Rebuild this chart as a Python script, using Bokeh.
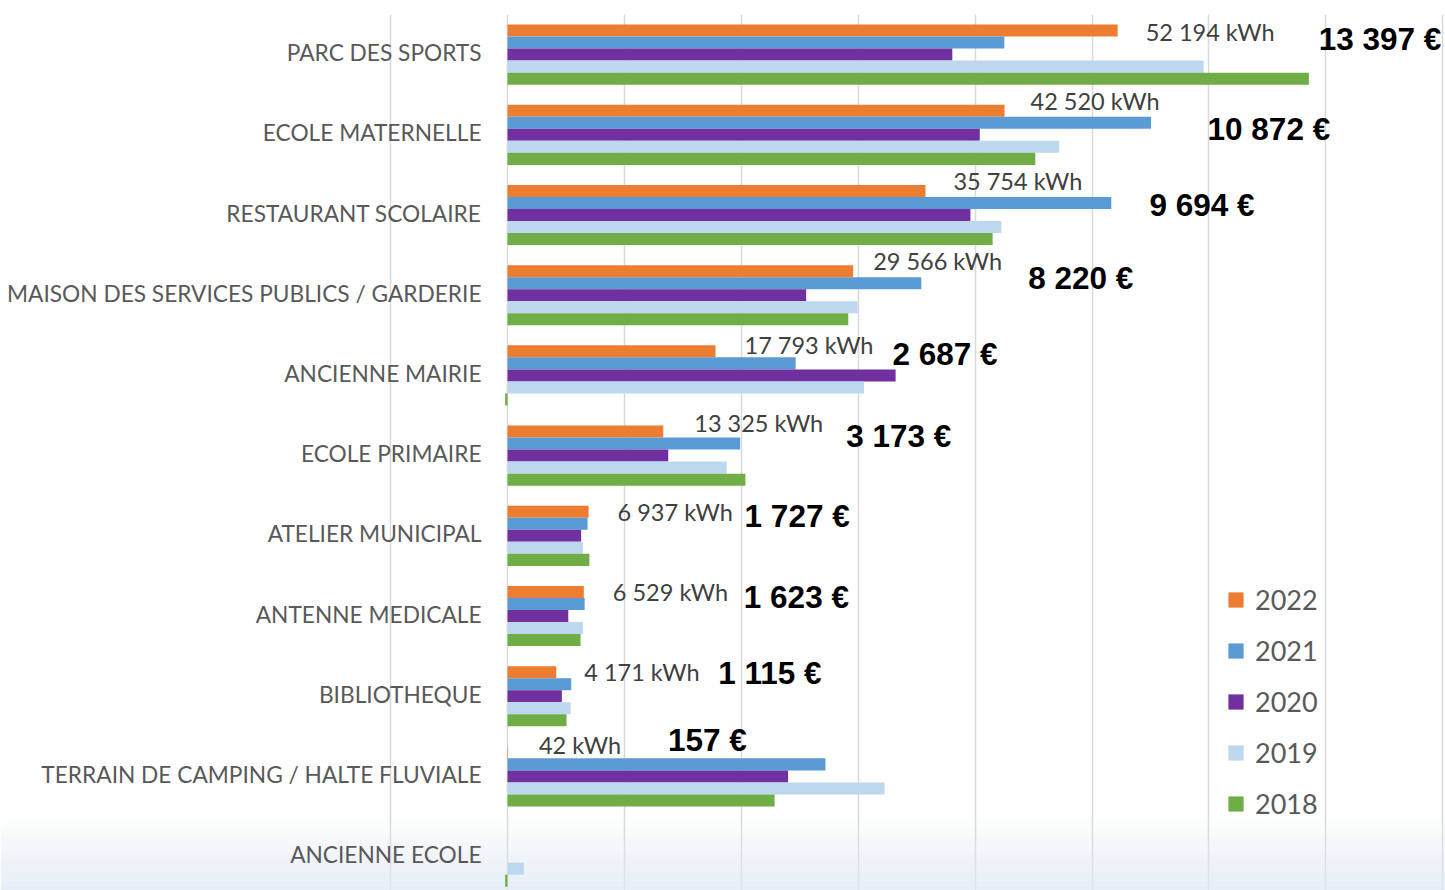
from bokeh.plotting import figure
from bokeh.models import ColumnDataSource, Range1d, FixedTicker, Legend, LegendItem, BoxAnnotation
from bokeh.embed import file_html
from bokeh.resources import INLINE
from bokeh.core.properties import value

categories = [
    "PARC DES SPORTS",
    "ECOLE MATERNELLE",
    "RESTAURANT SCOLAIRE",
    "MAISON DES SERVICES PUBLICS / GARDERIE",
    "ANCIENNE MAIRIE",
    "ECOLE PRIMAIRE",
    "ATELIER MUNICIPAL",
    "ANTENNE MEDICALE",
    "BIBLIOTHEQUE",
    "TERRAIN DE CAMPING / HALTE FLUVIALE",
    "ANCIENNE ECOLE",
]
years = ["2022", "2021", "2020", "2019", "2018"]
kwh_2022 = [52194, 42520, 35754, 29566, 17793, 13325, 6937, 6529, 4171, 42, 0]
kwh_2021 = [42500, 55050, 51650, 35400, 24650, 19900, 6850, 6600, 5450, 27200, 0]
kwh_2020 = [38050, 40400, 39600, 25550, 33200, 13750, 6300, 5200, 4650, 24000, 0]
kwh_2019 = [59550, 47200, 42250, 29950, 30500, 18750, 6450, 6450, 5400, 32250, 1400]
kwh_2018 = [68550, 45150, 41500, 29150, -200, 20350, 7000, 6250, 5050, 22850, -200]
cost_2022 = [13397, 10872, 9694, 8220, 2687, 3173, 1727, 1623, 1115, 157]
colors = ["#ED7D31", "#5B9BD5", "#7030A0", "#BDD7EE", "#70AD47"]
series = [kwh_2022, kwh_2021, kwh_2020, kwh_2019, kwh_2018]

# hand-placed annotation offsets (screen px), as in the source slide
kwh_label_dx = [28, 26, 28, 20, 29, 31, 29, 29, 28, 31]
kwh_label_dy = [-22.5, -34, -34.5, -34.5, -30, -32.5, -23.5, -24, -24, -31]
cost_label_dx = [201, 203, 224, 175, 177, 183, 156, 160, 162, 160]
cost_label_dy = [-16, -6, -10.5, -17, -21, -20, -19.5, -19, -23, -36]


def fmt(v):
    return f"{v:,}".replace(",", " ")


n = len(categories)
bar_h = 0.15
W, H = 1445, 890
top_pad = 14
px_per_cat = 80.2
zero_px = 507.0
px_per_unit = 116.9 / 10000.0
x_start = -zero_px / px_per_unit
x_end = (W - zero_px) / px_per_unit
y_end = -0.5
y_start = -0.5 + (H - top_pad) / px_per_cat

p = figure(
    width=W, height=H,
    x_range=Range1d(x_start, x_end), y_range=Range1d(y_start, y_end),
    x_axis_location=None, y_axis_location=None,
    output_backend="svg", toolbar_location=None,
    min_border_left=0, min_border_right=0, min_border_top=top_pad, min_border_bottom=0,
    background_fill_color="white", border_fill_color="white",
)
p.outline_line_color = None
p.xgrid.ticker = FixedTicker(ticks=list(range(-10000, 80001, 10000)))
p.xgrid.grid_line_color = "#d9d9d9"
p.xgrid.grid_line_width = 1.5
p.ygrid.visible = False

# faint slide-background gradient at the bottom
steps = 16
g0 = y_start - 75 / px_per_cat
for k in range(steps):
    b0 = g0 + k * (y_start - g0) / steps
    b1 = g0 + (k + 1) * (y_start - g0) / steps
    p.add_layout(BoxAnnotation(top=b0, bottom=b1, fill_color="#dfe8f3",
                               fill_alpha=0.75 * (k + 1) / steps, line_color=None,
                               level="underlay"))

idx = list(range(n))
renderers = []
for j, (vals, col) in enumerate(zip(series, colors)):
    src = ColumnDataSource(dict(y=[i + (j - 2) * bar_h for i in idx], right=vals))
    r = p.hbar(y="y", left=0, right="right", height=bar_h, source=src,
               fill_color=col, line_color=None)
    renderers.append(r)

# category labels
p.text(x=[0] * n, y=idx, text=categories, x_offset=-26, y_offset=-2,
       text_align="right", text_baseline="middle",
       text_font=value("Lato"), text_font_size="22.7px", text_color="#595959")

# kWh labels (2022)
m = len(cost_2022)
p.text(x=kwh_2022[:m], y=list(range(m)),
       text=[fmt(v) + " kWh" for v in kwh_2022[:m]],
       x_offset=kwh_label_dx, y_offset=kwh_label_dy,
       text_align="left", text_baseline="middle",
       text_font=value("Lato"), text_font_size="23.5px", text_color="#404040")

# cost labels
p.text(x=kwh_2022[:m], y=list(range(m)),
       text=[fmt(v) + " €" for v in cost_2022],
       x_offset=cost_label_dx, y_offset=cost_label_dy,
       text_align="left", text_baseline="middle",
       text_font=value("Liberation Sans"), text_font_style="bold",
       text_font_size="31.5px", text_color="black")

legend = Legend(
    items=[LegendItem(label=y, renderers=[r]) for y, r in zip(years, renderers)],
    location=(1226, 70), orientation="vertical",
    glyph_width=19, glyph_height=19, label_standoff=10,
    label_text_font="Lato", label_text_font_size="27px", label_text_color="#595959",
    label_height=33, spacing=18, padding=0, margin=0,
    border_line_color=None, background_fill_alpha=0,
)
p.add_layout(legend, "center")

open("out.html", "w").write(file_html(p, INLINE))
